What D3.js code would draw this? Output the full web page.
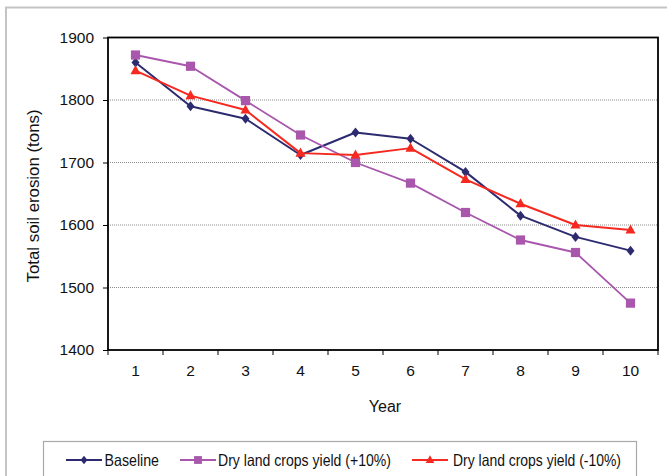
<!DOCTYPE html>
<html>
<head>
<meta charset="utf-8">
<script src="https://cdn.jsdelivr.net/npm/d3@7/dist/d3.min.js"></script>
<style>
  html, body { margin: 0; padding: 0; background: #fff; }
  svg { display: block; font-family: "Liberation Sans", Arial, sans-serif; }
</style>
</head>
<body>
<svg id="chart" width="667" height="476"></svg>
<script>
// Soil erosion totals per simulated year, for the baseline and two yield scenarios
const years = [1, 2, 3, 4, 5, 6, 7, 8, 9, 10];
const baseline = [1860, 1790, 1770, 1712, 1748, 1738, 1685, 1615, 1581, 1559];
const yieldPlus10 = [1872, 1854, 1799, 1744, 1700, 1667, 1620, 1576, 1556, 1475];
const yieldMinus10 = [1847, 1807, 1784, 1715, 1712, 1723, 1673, 1634, 1600, 1592];
const yTicks = [1400, 1500, 1600, 1700, 1800, 1900];
const seriesNames = ["Baseline", "Dry land crops yield (+10%)", "Dry land crops yield (-10%)"];

const series = [
  { name: seriesNames[0], values: baseline, color: "#2D2B70", marker: "diamond", width: 2 },
  { name: seriesNames[1], values: yieldPlus10, color: "#A857AC", marker: "square", width: 1.8 },
  { name: seriesNames[2], values: yieldMinus10, color: "#F5291F", marker: "triangle", width: 2 }
];

const svg = d3.select("#chart");
const plot = { left: 108, right: 658, top: 37.5, bottom: 350 };
const font = "'Liberation Sans', Arial, sans-serif";

// outer chart area border
svg.append("rect")
  .attr("x", 6).attr("y", 7.5).attr("width", 700).attr("height", 500)
  .attr("fill", "none").attr("stroke", "#c4c4c4").attr("stroke-width", 2);

const x = d3.scaleBand().domain(years).range([plot.left, plot.right]);
const y = d3.scaleLinear().domain([1400, 1900]).range([plot.bottom, plot.top]);

// horizontal gridlines
svg.append("g").selectAll("line")
  .data(yTicks.slice(1, -1))
  .join("line")
  .attr("x1", plot.left).attr("x2", plot.right)
  .attr("y1", d => y(d)).attr("y2", d => y(d))
  .attr("stroke", "#8a8a8a").attr("stroke-width", 1)
  .attr("stroke-dasharray", "1,1");

// y axis
const yAxis = svg.append("g")
  .attr("transform", `translate(${plot.left},0)`)
  .call(d3.axisLeft(y).tickValues(yTicks).tickSize(5).tickPadding(9).tickFormat(d3.format("d")));
yAxis.select(".domain").remove();
yAxis.selectAll(".tick line").attr("stroke", "#000");
yAxis.selectAll(".tick text").attr("font-size", 15.5).attr("fill", "#111")
  .attr("font-family", font);

// x axis labels (centred on each category)
const xAxis = svg.append("g")
  .attr("transform", `translate(0,${plot.bottom})`)
  .call(d3.axisBottom(x).tickSize(0).tickPadding(15));
xAxis.select(".domain").remove();
xAxis.selectAll(".tick text").attr("font-size", 15.5).attr("fill", "#111")
  .attr("font-family", font);

// x tick marks sit between categories
const edges = years.map(d => x(d)).concat([x(years[years.length - 1]) + x.bandwidth()]);
svg.append("g").selectAll("line")
  .data(edges)
  .join("line")
  .attr("x1", d => d).attr("x2", d => d)
  .attr("y1", plot.bottom).attr("y2", plot.bottom + 5)
  .attr("stroke", "#000").attr("stroke-width", 1);

// plot frame
svg.append("rect")
  .attr("x", plot.left).attr("y", plot.top)
  .attr("width", plot.right - plot.left).attr("height", plot.bottom - plot.top)
  .attr("fill", "none").attr("stroke", "#000").attr("stroke-width", 1.8);

// axis titles
svg.append("text")
  .attr("x", (plot.left + plot.right) / 2 + 2).attr("y", 411.5)
  .attr("text-anchor", "middle").attr("font-size", 16).attr("fill", "#111")
  .text("Year");
svg.append("text")
  .attr("transform", "translate(39,196) rotate(-90)")
  .attr("text-anchor", "middle").attr("font-size", 16).attr("fill", "#111")
  .attr("textLength", 173).attr("lengthAdjust", "spacingAndGlyphs")
  .text("Total soil erosion (tons)");

// marker shapes
function markerPath(type, size) {
  const s = size;
  if (type === "diamond") return `M0,${-s}L${s * 0.8},0L0,${s}L${-s * 0.8},0Z`;
  if (type === "square") return `M${-s},${-s}H${s}V${s}H${-s}Z`;
  return `M0,${-s * 1.15}L${s * 1.05},${s * 0.75}L${-s * 1.05},${s * 0.75}Z`;
}
const markerSize = { diamond: 5, square: 4.6, triangle: 4.8 };

const cx = d => x(d) + x.bandwidth() / 2;
const line = d3.line().x((v, i) => cx(years[i])).y(v => y(v));

series.forEach(s => {
  const g = svg.append("g");
  g.append("path")
    .datum(s.values)
    .attr("d", line)
    .attr("fill", "none")
    .attr("stroke", s.color)
    .attr("stroke-width", s.width)
    .attr("stroke-linejoin", "round");
  g.selectAll("path.m")
    .data(s.values)
    .join("path")
    .attr("class", "m")
    .attr("transform", (v, i) => `translate(${cx(years[i])},${y(v)})`)
    .attr("d", markerPath(s.marker, markerSize[s.marker]))
    .attr("fill", s.color);
});

// legend
const legend = svg.append("g");
legend.append("rect")
  .attr("x", 43.5).attr("y", 441.5).attr("width", 593).attr("height", 40)
  .attr("fill", "#fff").attr("stroke", "#a8a8a8").attr("stroke-width", 1.2);
const legendItems = [
  { lineX: 66, textX: 104.5 },
  { lineX: 180, textX: 218 },
  { lineX: 412, textX: 453 }
];
const legendWidths = [54.5, 173, 168];
series.forEach((s, i) => {
  const it = legendItems[i];
  const ly = 460;
  legend.append("line")
    .attr("x1", it.lineX).attr("x2", it.lineX + 36)
    .attr("y1", ly).attr("y2", ly)
    .attr("stroke", s.color).attr("stroke-width", s.width);
  legend.append("path")
    .attr("transform", `translate(${it.lineX + 18},${ly})`)
    .attr("d", markerPath(s.marker, markerSize[s.marker] * 0.85))
    .attr("fill", s.color);
  legend.append("text")
    .attr("x", it.textX).attr("y", ly + 5.8)
    .attr("font-size", 16.5).attr("fill", "#111")
    .attr("textLength", legendWidths[i]).attr("lengthAdjust", "spacingAndGlyphs")
    .text(s.name);
});
</script>
</body>
</html>
